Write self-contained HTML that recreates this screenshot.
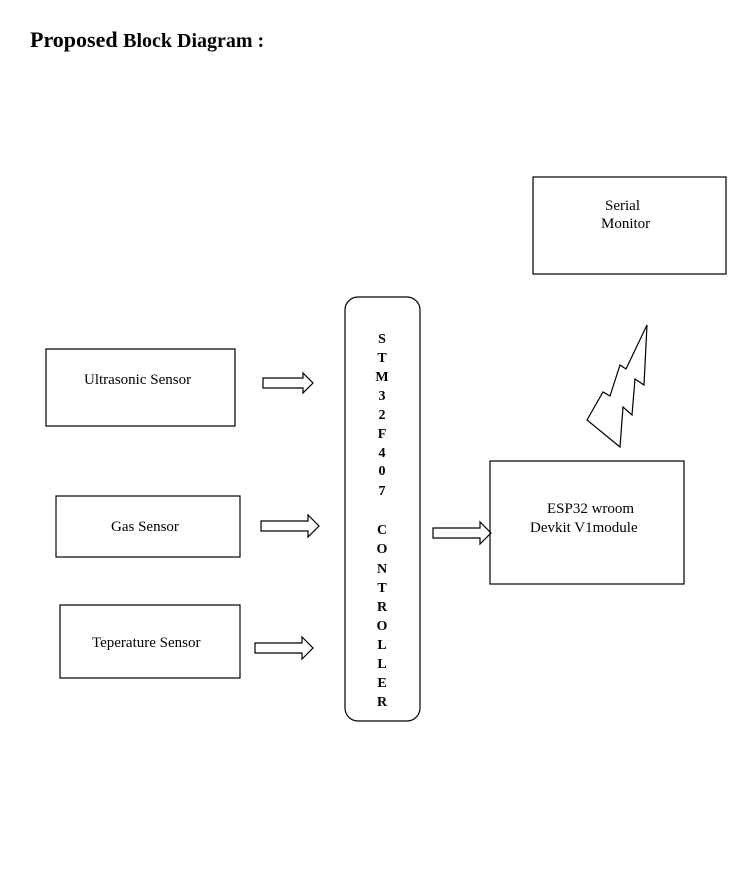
<!DOCTYPE html>
<html><head><style>
body{margin:0;background:#fff;width:732px;height:890px;overflow:hidden}
svg{display:block}
text{font-family:"Liberation Serif",serif;fill:#000}
</style></head><body>
<svg width="732" height="890" xmlns="http://www.w3.org/2000/svg">
<text x="30" y="47" font-size="22" font-weight="bold">Proposed <tspan font-size="20">Block Diagram :</tspan></text>
<g fill="none" stroke="#000" stroke-width="1.2">
<rect x="533" y="177" width="193" height="97"/>
<rect x="46" y="349" width="189" height="77"/>
<rect x="56" y="496" width="184" height="61"/>
<rect x="60" y="605" width="180" height="73"/>
<rect x="490" y="461" width="194" height="123"/>
<rect x="345" y="297" width="75" height="424" rx="13"/>
<polygon points="647,325 644,385 635,379 632,415 623,407 620,447 587,420 603,392 610,396 620,365 626,369"/>
<polygon points="263,378 303,378 303,373 313,383 303,393 303,388 263,388"/>
<polygon points="261,521 308,521 308,515 319,526 308,537 308,531 261,531"/>
<polygon points="255,643 302,643 302,637 313,648 302,659 302,653 255,653"/>
<polygon points="433,528 480,528 480,522 491,533 480,544 480,538 433,538"/>
</g>
<g font-size="15">
<text x="605" y="210">Serial</text>
<text x="601" y="228">Monitor</text>
<text x="84" y="384">Ultrasonic Sensor</text>
<text x="111" y="531">Gas Sensor</text>
<text x="92" y="647">Teperature Sensor</text>
<text x="547" y="513">ESP32 wroom</text>
<text x="530" y="532">Devkit V1module</text>
</g>
<g font-size="14" font-weight="bold" text-anchor="middle">
<text x="382" y="343">S</text><text x="382" y="362">T</text><text x="382" y="381">M</text>
<text x="382" y="400">3</text><text x="382" y="419">2</text><text x="382" y="438">F</text>
<text x="382" y="457">4</text><text x="382" y="475">0</text><text x="382" y="495">7</text>
<text x="382" y="534">C</text><text x="382" y="553">O</text><text x="382" y="573">N</text>
<text x="382" y="592">T</text><text x="382" y="611">R</text><text x="382" y="630">O</text>
<text x="382" y="649">L</text><text x="382" y="668">L</text><text x="382" y="687">E</text>
<text x="382" y="706">R</text>
</g>
</svg>
</body></html>
